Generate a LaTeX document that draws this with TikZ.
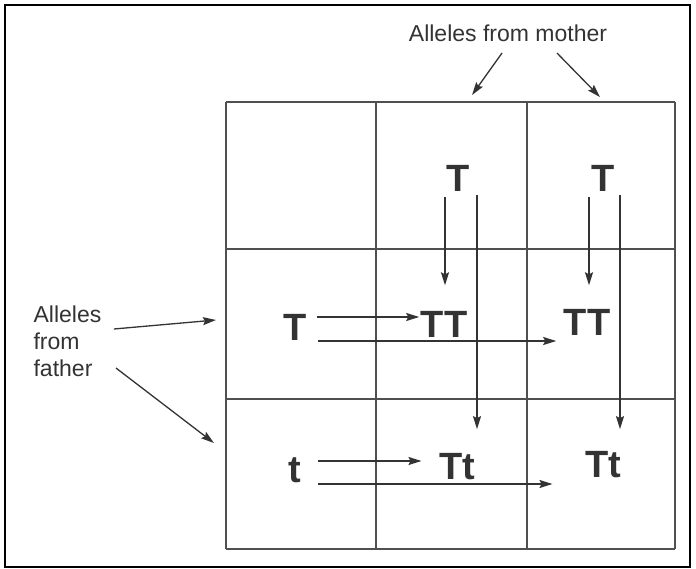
\documentclass[tikz,border=0pt]{standalone}
\usepackage{fontspec}
\setmainfont{Liberation Sans}
\usetikzlibrary{arrows.meta, calc, positioning}
\definecolor{punGrey}{HTML}{333333}
\definecolor{punLine}{HTML}{505050}
\tikzset{
  % thin grey square, bold letters, plain pointers
  every picture/.append style = {line width=1.2pt, >={Stealth[length=13pt, width=8pt, inset=2pt]}},
  gridline/.style = {punLine, line width=1.3pt},
  pointer/.style  = {->, punGrey, line width=1.3pt},
  geneflow/.style = {->, punGrey, line width=1.6pt},
  allele/.style   = {font=\fontsize{38}{40}\selectfont\bfseries, text=punGrey, inner sep=0pt},
  lbl/.style      = {font=\fontsize{23}{27}\selectfont, text=punGrey, inner sep=0pt},
}

\begin{document}
\begin{tikzpicture}[x=1pt, y=-1pt]
  \useasboundingbox (0,0) rectangle (696,569);
  \draw[black, line width=1.6pt] (5,5) rectangle (690,567);
  % punnett square
  \foreach \x in {226,376,527,675}
    \draw[gridline] (\x,102) -- (\x,549);
  \foreach \y in {102,249,399,549}
    \draw[gridline] (226,\y) -- (675,\y);
  % labels
  \node[lbl] (mother) at (508,33) {Alleles from mother};
  \node[lbl, anchor=west, align=left] (father) at (33,341) {Alleles\\from\\father};
  \draw[pointer] ($(mother.south)+(-6,11)$) -- ($(mother.south)+(-36,53)$);
  \draw[pointer] ($(mother.south)+(49,11)$) -- ($(mother.south)+(92,55)$);
  \draw[pointer] ($(father.east)+(12,-12)$) -- ($(father.east)+(114,-21)$);
  \draw[pointer] ($(father.east)+(14,27)$) -- ($(father.east)+(112,102)$);
  % alleles and offspring
  \node[allele] (m1) at (458,178) {T};
  \node[allele] (m2) at (603,178) {T};
  \node[allele] (f1) at (295,327) {T};
  \node[allele] (f2) at (295,470) {t};
  \node[allele] (c11) at (444,324) {TT};
  \node[allele] (c12) at (587,322) {TT};
  \node[allele] (c21) at (457,467) {Tt};
  \node[allele] (c22) at (603,465) {Tt};
  % from mother
  \draw[geneflow] ($(m1.south)+(-13,5)$) -- ($(c11.north)+(1,-25)$);
  \draw[geneflow] ($(m1.south)+(19,3)$) -- ($(c21.north)+(20,-24)$);
  \draw[geneflow] ($(m2.south)+(-14,5)$) -- ($(c12.north)+(2,-23)$);
  \draw[geneflow] ($(m2.south)+(17,3)$) -- ($(c22.north)+(17,-22)$);
  % from father
  \draw[geneflow] ($(f1.east)+(10,-10)$) -- ($(c11.west)+(-1,-7)$);
  \draw[geneflow] ($(f1.east)+(11,14)$) -- ($(c12.west)+(-7,19)$);
  \draw[geneflow] ($(f2.east)+(16,-9)$) -- ($(c21.west)+(-17,-6)$);
  \draw[geneflow] ($(f2.east)+(16,14)$) -- ($(c22.west)+(-32,19)$);
\end{tikzpicture}
\end{document}
